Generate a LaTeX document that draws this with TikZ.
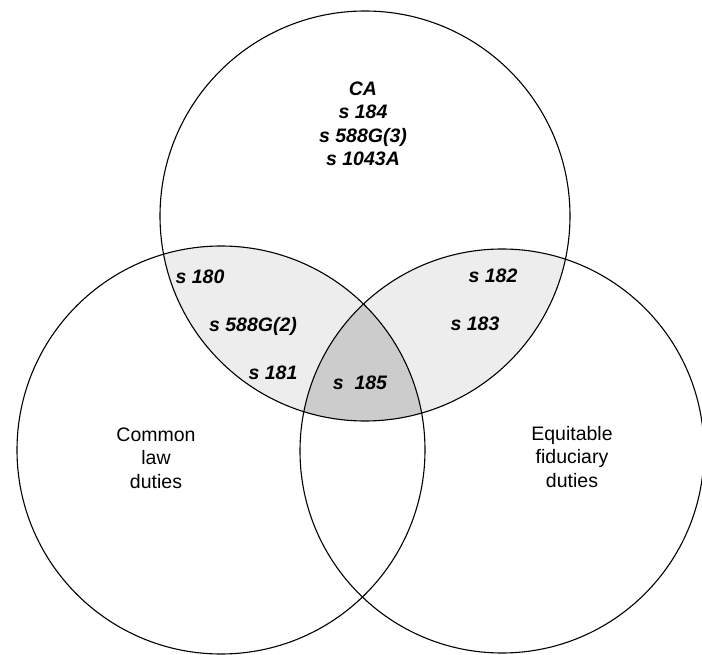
\documentclass[tikz,border=0pt]{standalone}
\usepackage{fontspec}
\setmainfont{Liberation Sans}
\begin{document}
\begin{tikzpicture}[x=1pt,y=-1pt,
  ring/.style={draw=black,line width=1.1pt},
  sec/.style={font=\fontsize{19.5}{23.5}\selectfont\bfseries\itshape,inner sep=0pt,align=center},
  cat/.style={font=\fontsize{19.5}{23.5}\selectfont,inner sep=0pt,align=center}]
\useasboundingbox (0,0) rectangle (702,655);
\fill[white] (0,0) rectangle (702,655);
\coordinate (ct) at (365,216);
\coordinate (cl) at (221,450);
\coordinate (cr) at (502,451);
\def\rt{205}
\def\rl{204}
\def\rr{202}
% shaded overlaps
\begin{scope}
  \clip (ct) circle (\rt);
  \fill[gray!14] (cl) circle (\rl);
  \fill[gray!14] (cr) circle (\rr);
  \clip (cl) circle (\rl);
  \fill[gray!40] (cr) circle (\rr);
\end{scope}
\draw[ring] (ct) circle (\rt);
\draw[ring] (cl) circle (\rl);
\draw[ring] (cr) circle (\rr);
% labels
\node[sec] (ca) at (363,124) {CA\\s 184\\s 588G(3)\\s 1043A};
\node[sec] (s180) at (200,277) {s 180};
\node[sec] (s588) at (253,326) {s 588G(2)};
\node[sec] (s181) at (273,373) {s 181};
\node[sec] (s182) at (493,276) {s 182};
\node[sec] (s183) at (475,324) {s 183};
\node[sec] (s185) at (360,383) {s\ \ 185};
\node[cat] (cl1) at (156,458) {Common\\law\\duties};
\node[cat] (eq1) at (572,457) {Equitable\\fiduciary\\duties};
\end{tikzpicture}
\end{document}
